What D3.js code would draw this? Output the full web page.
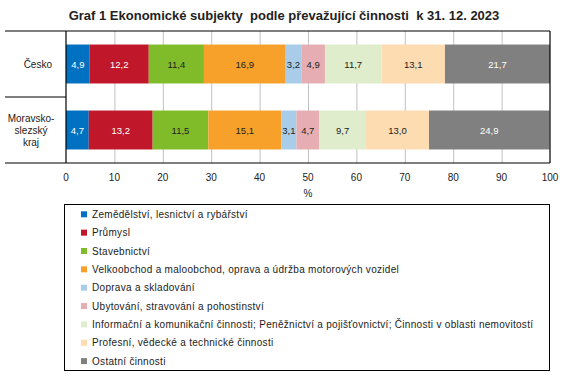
<!DOCTYPE html>
<html lang="cs">
<head>
<meta charset="UTF-8" />
<title>Graf 1</title>
<script src="https://d3js.org/d3.v7.min.js"></script>
<style>
  body { margin: 0; background: #fff; }
  text { font-family: "Liberation Sans", Arial, sans-serif; }
</style>
</head>
<body>
<svg id="chart" width="567" height="378"></svg>
<script>
  const regions = ["Česko", "Moravskoslezský kraj"];
  const regionLines = [["Česko"], ["Moravsko-", "slezský", "kraj"]];
  const sectors = [
    "Zemědělství, lesnictví a rybářství",
    "Průmysl",
    "Stavebnictví",
    "Velkoobchod a maloobchod, oprava a údržba motorových vozidel",
    "Doprava a skladování",
    "Ubytování, stravování a pohostinství",
    "Informační a komunikační činnosti; Peněžnictví a pojišťovnictví; Činnosti v oblasti nemovitostí",
    "Profesní, vědecké a technické činnosti",
    "Ostatní činnosti"
  ];
  const cesko = [4.9, 12.2, 11.4, 16.9, 3.2, 4.9, 11.7, 13.1, 21.7];
  const msk = [4.7, 13.2, 11.5, 15.1, 3.1, 4.7, 9.7, 13.0, 24.9];
  const xTicks = [0, 10, 20, 30, 40, 50, 60, 70, 80, 90, 100];

  const colors = ["#0070c0", "#c0172a", "#80bc2a", "#f7a12a", "#a9cde8",
                  "#e6aeb3", "#dfedcc", "#fddcb1", "#808080"];
  const whiteLabel = [true, true, false, false, false, false, false, false, true];

  const svg = d3.select("#chart");
  const plotL = 66, plotR = 550, plotT = 31, plotB = 163;

  const x = d3.scaleLinear().domain([0, 100]).range([plotL, plotR]);
  const y = d3.scaleBand().domain(regions).range([plotT, plotB])
    .paddingInner(0.41).paddingOuter(0.205);

  // title
  svg.append("text")
    .attr("x", 284).attr("y", 20)
    .attr("text-anchor", "middle")
    .attr("font-size", 13).attr("font-weight", "bold")
    .style("white-space", "pre")
    .attr("fill", "#222")
    .text("Graf 1 Ekonomické subjekty  podle převažující činnosti  k 31. 12. 2023");

  // gridlines
  svg.append("g")
    .attr("transform", `translate(0,${plotB})`)
    .call(d3.axisBottom(x).tickValues(xTicks.slice(1, -1)).tickSize(-(plotB - plotT)).tickFormat(""))
    .call(g => g.select(".domain").remove())
    .call(g => g.selectAll("line").attr("stroke", "#c0c0c0"));

  // stacked bars
  const rows = [cesko, msk];
  rows.forEach((vals, ri) => {
    let acc = 0;
    const segs = vals.map((v, i) => {
      const s = { x0: acc, x1: acc + v, v: v, i: i };
      acc += v;
      return s;
    });
    const g = svg.append("g");
    g.selectAll("rect").data(segs).join("rect")
      .attr("x", d => x(d.x0))
      .attr("width", d => x(d.x1) - x(d.x0))
      .attr("y", y(regions[ri]))
      .attr("height", y.bandwidth())
      .attr("fill", d => colors[d.i]);
    g.selectAll("text").data(segs).join("text")
      .attr("x", d => (x(d.x0) + x(d.x1)) / 2)
      .attr("y", y(regions[ri]) + y.bandwidth() / 2 + 3.5)
      .attr("text-anchor", "middle")
      .attr("font-size", 9.5)
      .attr("fill", d => whiteLabel[d.i] ? "#fff" : "#222")
      .text(d => d3.format(".1f")(d.v).replace(".", ","));
  });

  // frame
  const frame = svg.append("g").attr("stroke", "#000").attr("stroke-width", 1.2);
  frame.append("line").attr("x1", 5).attr("x2", plotR).attr("y1", plotT).attr("y2", plotT);
  frame.append("line").attr("x1", 5).attr("x2", plotR).attr("y1", plotB).attr("y2", plotB);
  frame.append("line").attr("x1", 5).attr("x2", plotL).attr("y1", y.step() + plotT).attr("y2", y.step() + plotT);
  frame.append("line").attr("x1", plotL).attr("x2", plotL).attr("y1", plotT).attr("y2", plotB);
  frame.append("line").attr("x1", plotR).attr("x2", plotR).attr("y1", plotT).attr("y2", plotB);

  // x axis labels
  svg.append("g")
    .selectAll("text").data(xTicks).join("text")
    .attr("x", d => x(d)).attr("y", 181)
    .attr("text-anchor", "middle")
    .attr("font-size", 10).attr("fill", "#222")
    .text(d => d);
  svg.append("text")
    .attr("x", (plotL + plotR) / 2).attr("y", 197)
    .attr("text-anchor", "middle")
    .attr("font-size", 10).attr("fill", "#222")
    .text("%");

  // category labels
  regions.forEach((r, ri) => {
    const lines = regionLines[ri];
    const cy = y(r) + y.bandwidth() / 2;
    const t = svg.append("text")
      .attr("font-size", 10).attr("fill", "#222")
      .attr("text-anchor", ri === 0 ? "end" : "middle");
    lines.forEach((l, li) => {
      t.append("tspan")
        .attr("x", ri === 0 ? 52 : 31)
        .attr("y", cy + 3.5 + (li - (lines.length - 1) / 2) * 12)
        .text(l);
    });
  });

  // legend
  svg.append("rect")
    .attr("x", 64.5).attr("y", 204.5).attr("width", 485).attr("height", 166)
    .attr("fill", "none").attr("stroke", "#000").attr("stroke-width", 1);
  const leg = svg.append("g").selectAll("g").data(sectors).join("g")
    .attr("transform", (d, i) => `translate(81,${214.3 + i * 18.35})`);
  leg.append("rect")
    .attr("x", 0).attr("y", -3).attr("width", 6).attr("height", 6)
    .attr("fill", (d, i) => colors[i]);
  leg.append("text")
    .attr("x", 11).attr("y", 3.6)
    .attr("font-size", 10).attr("letter-spacing", 0.3).attr("fill", "#222")
    .text(d => d);
</script>
</body>
</html>
